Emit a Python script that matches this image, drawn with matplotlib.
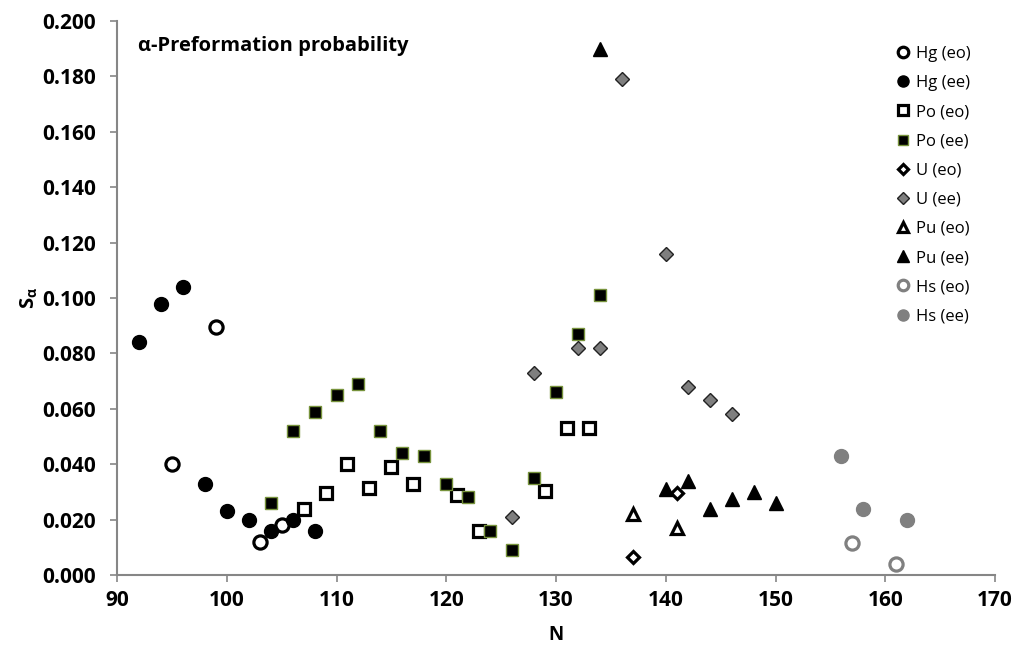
import matplotlib as mpl
import matplotlib.pyplot as plt

mpl.rcParams["font.family"] = ["Open Sans", "DejaVu Sans"]
mpl.rcParams["font.weight"] = "bold"

# data (N, S_alpha)
hg_eo_n = [95, 99, 103, 105]
hg_eo_s = [0.040, 0.0895, 0.012, 0.018]
hg_ee_n = [92, 94, 96, 98, 100, 102, 104, 106, 108]
hg_ee_s = [0.084, 0.098, 0.104, 0.033, 0.023, 0.020, 0.016, 0.020, 0.016]

po_eo_n = [107, 109, 111, 113, 115, 117, 121, 123, 129, 131, 133]
po_eo_s = [0.024, 0.0295, 0.040, 0.0315, 0.039, 0.033, 0.029, 0.016, 0.0305, 0.053, 0.053]
po_ee_n = [104, 106, 108, 110, 112, 114, 116, 118, 120, 122, 124, 126, 128, 130, 132, 134]
po_ee_s = [0.026, 0.052, 0.059, 0.065, 0.069, 0.052, 0.044, 0.043, 0.033, 0.028,
           0.016, 0.009, 0.035, 0.066, 0.087, 0.101]

u_eo_n = [137, 141]
u_eo_s = [0.0065, 0.0295]
u_ee_n = [126, 128, 132, 134, 136, 140, 142, 144, 146]
u_ee_s = [0.021, 0.073, 0.082, 0.082, 0.179, 0.116, 0.068, 0.063, 0.058]

pu_eo_n = [137, 141]
pu_eo_s = [0.022, 0.017]
pu_ee_n = [134, 140, 142, 144, 146, 148, 150]
pu_ee_s = [0.190, 0.031, 0.034, 0.024, 0.0275, 0.030, 0.026]

hs_eo_n = [157, 161]
hs_eo_s = [0.0115, 0.004]
hs_ee_n = [156, 158, 162]
hs_ee_s = [0.043, 0.024, 0.020]

fig = plt.figure(figsize=(10.16, 6.45), dpi=100)
ax = fig.add_axes([117 / 1016, 1 - 575 / 645, (995 - 117) / 1016, (575 - 21) / 645])

series = [
    (hg_eo_n, hg_eo_s, "Hg (eo)", dict(marker="o", ms=9.5, mfc="white", mec="black", mew=2.3)),
    (hg_ee_n, hg_ee_s, "Hg (ee)", dict(marker="o", ms=10, mfc="black", mec="black", mew=1)),
    (po_eo_n, po_eo_s, "Po (eo)", dict(marker="s", ms=8.5, mfc="white", mec="black", mew=2.3)),
    (po_ee_n, po_ee_s, "Po (ee)", dict(marker="s", ms=9, mfc="black", mec="#77933c", mew=1)),
    (u_eo_n, u_eo_s, "U (eo)", dict(marker="D", ms=6.5, mfc="white", mec="black", mew=2.3)),
    (u_ee_n, u_ee_s, "U (ee)", dict(marker="D", ms=7.5, mfc="#7f7f7f", mec="#222222", mew=1)),
    (pu_eo_n, pu_eo_s, "Pu (eo)", dict(marker="^", ms=8.5, mfc="white", mec="black", mew=2.3)),
    (pu_ee_n, pu_ee_s, "Pu (ee)", dict(marker="^", ms=10, mfc="black", mec="black", mew=1)),
    (hs_eo_n, hs_eo_s, "Hs (eo)", dict(marker="o", ms=9.5, mfc="white", mec="#808080", mew=2.3)),
    (hs_ee_n, hs_ee_s, "Hs (ee)", dict(marker="o", ms=10, mfc="#808080", mec="#808080", mew=1)),
]
for n, s, lab, style in series:
    ax.plot(n, s, ls="none", label=lab, **style)

ax.set_xlim(90, 170)
ax.set_ylim(0, 0.2)
ax.set_xticks(range(90, 171, 10))
ax.set_yticks([i * 0.02 for i in range(11)])
ax.yaxis.set_major_formatter(mpl.ticker.FormatStrFormatter("%.3f"))

for side in ["top", "right"]:
    ax.spines[side].set_visible(False)
for side in ["left", "bottom"]:
    ax.spines[side].set_color("#868686")
    ax.spines[side].set_linewidth(1.5)
ax.tick_params(direction="out", length=5, width=1.2, color="#868686",
               labelsize=15, labelcolor="black")
ax.tick_params(axis="y", pad=10)
ax.tick_params(axis="x", pad=6)
for lbl in ax.get_xticklabels() + ax.get_yticklabels():
    lbl.set_fontweight("bold")
    lbl.set_fontsize(15)

ax.set_xlabel("N", fontsize=13.5, fontweight="bold", labelpad=10)
ax.set_ylabel(r"S$_\mathregular{\alpha}$", fontsize=14.5, fontweight="bold", labelpad=2)

ax.text(0.024, 0.955, "\u03b1-Preformation probability", transform=ax.transAxes,
        fontsize=14.5, fontweight="bold", va="center")

ax.legend(loc="upper left", bbox_to_anchor=(0.882, 0.967), frameon=False,
          prop={"size": 12, "weight": "normal"}, handlelength=0.6, handletextpad=0.45,
          labelspacing=0.79, markerscale=0.8, borderaxespad=0)

fig.savefig("out.png", dpi=100)
